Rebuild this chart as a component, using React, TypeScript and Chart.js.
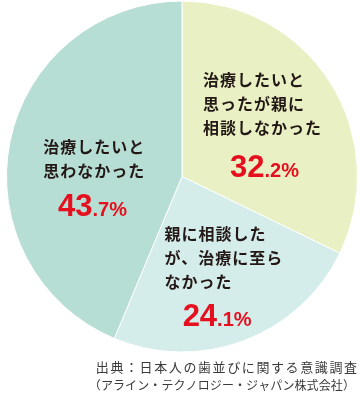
import React, { useEffect, useRef } from "react";
import { Chart, registerables } from "chart.js";

Chart.register(...registerables);

const categories = [
  "治療したいと思ったが親に相談しなかった",
  "親に相談したが、治療に至らなかった",
  "治療したいと思わなかった",
];
const values = [32.2, 24.1, 43.7];
const labelLines = [
  ["治療したいと", "思ったが親に", "相談しなかった"],
  ["親に相談した", "が、治療に至ら", "なかった"],
  ["治療したいと", "思わなかった"],
];
const sliceColors = ["#e9f0c4", "#d4ecea", "#b6ded5"];
const sourceLines = [
  "出典：日本人の歯並びに関する意識調査",
  "（アライン・テクノロジー・ジャパン株式会社）",
];

// label placement relative to pie centre, as fractions of radius (style only)
const labelPlacement = [
  { x: 0.12, y: -0.55, align: "left" as CanvasTextAlign, px: 0.47, py: -0.06 },
  { x: -0.1, y: 0.33, align: "left" as CanvasTextAlign, px: 0.2, py: 0.79 },
  { x: -0.5, y: -0.17, align: "center" as CanvasTextAlign, px: -0.51, py: 0.16 },
];

const JP = "'Noto Sans CJK JP', 'Noto Sans', sans-serif";

const labelPlugin = {
  id: "sliceLabels",
  afterDatasetsDraw(chart: any) {
    const ctx: CanvasRenderingContext2D = chart.ctx;
    const arc = chart.getDatasetMeta(0).data[0] as any;
    const cx = arc.x;
    const cy = arc.y;
    const R = arc.outerRadius;
    ctx.save();
    values.forEach((v, i) => {
      const p = labelPlacement[i];
      const lines = labelLines[i];
      ctx.font = `bold 16px ${JP}`;
      (ctx as any).letterSpacing = "1px";
      ctx.fillStyle = "#231815";
      ctx.textBaseline = "middle";
      ctx.textAlign = p.align;
      const x0 = cx + p.x * R;
      const y0 = cy + p.y * R;
      lines.forEach((ln, k) => {
        ctx.fillText(ln, x0, y0 + k * 24);
      });
      // percentage
      (ctx as any).letterSpacing = "0px";
      const [intPart, decPart] = v.toFixed(1).split(".");
      const big = `bold 31px 'Liberation Sans', Arial, sans-serif`;
      const small = `bold 20px 'Liberation Sans', Arial, sans-serif`;
      ctx.font = big;
      const w1 = ctx.measureText(intPart).width;
      ctx.font = small;
      const rest = "." + decPart + "%";
      const w2 = ctx.measureText(rest).width;
      const px = cx + p.px * R - (w1 + w2) / 2;
      const py = cy + p.py * R + 11;
      ctx.textAlign = "left";
      ctx.textBaseline = "alphabetic";
      ctx.fillStyle = "#e60f1e";
      ctx.font = big;
      ctx.fillText(intPart, px, py);
      ctx.font = small;
      ctx.fillText(rest, px + w1, py);
    });
    // source
    ctx.fillStyle = "#3a3a3a";
    ctx.textAlign = "right";
    ctx.textBaseline = "middle";
    const right = chart.width - 3;
    ctx.font = `13px ${JP}`;
    (ctx as any).letterSpacing = "1.6px";
    ctx.fillText(sourceLines[0], right + 1.6, chart.height - 37);
    ctx.font = `12px ${JP}`;
    (ctx as any).letterSpacing = "0.1px";
    ctx.fillText(sourceLines[1], right - 2, chart.height - 19);
    ctx.restore();
  },
};

export default function App() {
  const ref = useRef<HTMLCanvasElement>(null);
  useEffect(() => {
    if (!ref.current) return;
    const chart = new Chart(ref.current, {
      type: "pie",
      data: {
        labels: categories,
        datasets: [
          {
            data: values,
            backgroundColor: sliceColors,
            borderColor: "#ffffff",
            borderWidth: 1,
            hoverOffset: 0,
          },
        ],
      },
      options: {
        animation: false,
        responsive: true,
        maintainAspectRatio: false,
        layout: { padding: { left: 6, right: 2, top: 0, bottom: 51 } },
        plugins: {
          legend: { display: false },
          tooltip: { enabled: false },
        },
      },
      plugins: [labelPlugin],
    });
    return () => chart.destroy();
  }, []);
  return (
    <div
      style={{
        position: "absolute",
        left: 0,
        top: 0,
        width: 360,
        height: 404,
        background: "#ffffff",
      }}
    >
      <canvas ref={ref} />
    </div>
  );
}
